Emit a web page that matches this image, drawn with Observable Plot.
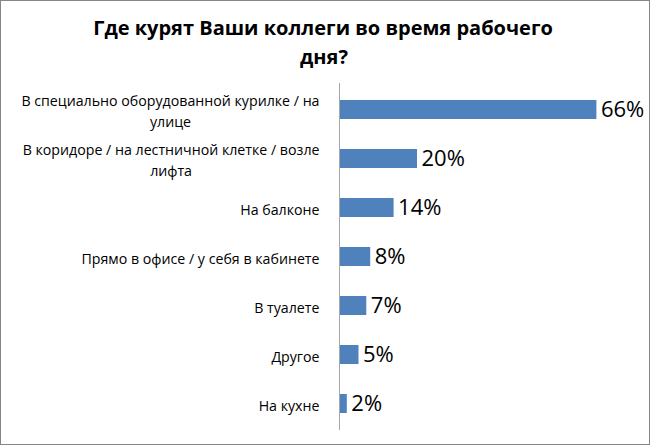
<!DOCTYPE html>
<html><head><meta charset="utf-8">
<script src="https://cdn.jsdelivr.net/npm/d3@7"></script>
<script src="https://cdn.jsdelivr.net/npm/@observablehq/plot@0.6"></script>
<style>
html,body{margin:0;padding:0;background:#fff;}
#wrap{width:650px;height:445px;box-sizing:border-box;border:1px solid #868686;background:#fff;overflow:hidden;}
#title{height:77px;box-sizing:border-box;padding-top:12px;text-align:center;font-family:"Open Sans",sans-serif;font-weight:bold;font-size:20px;line-height:29px;color:#000;}
#title div{white-space:nowrap;}
svg{display:block;}
</style></head>
<body>
<div id="wrap">
<div id="title"><div style="padding-right:4px">Где курят Ваши коллеги во время рабочего</div><div style="padding-right:2px">дня?</div></div>
<div id="chart"></div>
</div>
<script>
const categories = [
  "В специально оборудованной курилке / на\nулице",
  "В коридоре / на лестничной клетке / возле\nлифта",
  "На балконе",
  "Прямо в офисе / у себя в кабинете",
  "В туалете",
  "Другое",
  "На кухне"
];
const values = [66, 20, 14, 8, 7, 5, 2];
const valueLabels = ["66%", "20%", "14%", "8%", "7%", "5%", "2%"];

const data = categories.map((c, i) => ({cat: c, value: values[i], label: valueLabels[i]}));

const chart = Plot.plot({
  width: 648,
  height: 366,
  marginLeft: 338,
  marginRight: 37,
  marginTop: 5,
  marginBottom: 14,
  style: {fontFamily: "Open Sans, sans-serif", background: "#fff", color: "#000"},
  x: {domain: [0, 70], axis: null},
  y: {domain: categories, paddingInner: 0.62, paddingOuter: 0.31, label: null},
  marks: [
    Plot.barX(data, {x: "value", y: "cat", fill: "#4f81bd"}),
    Plot.ruleX([0], {stroke: "#a6a6a6", strokeWidth: 1}),
    Plot.axisY({tickSize: 0, tickPadding: 20, fontSize: 14.2, lineHeight: 1.5, label: null, textAnchor: "end"}),
    Plot.text(data, {x: "value", y: "cat", text: "label", dx: 4, textAnchor: "start", fontSize: 22, fill: "#000"})
  ]
});
document.getElementById("chart").appendChild(chart);

// center the lines of multi-line category labels within their block
d3.select(chart).selectAll("text").each(function() {
  const tspans = this.querySelectorAll("tspan");
  if (tspans.length > 1) {
    const w = this.getBBox().width;
    this.setAttribute("text-anchor", "middle");
    tspans.forEach(t => t.setAttribute("x", -w / 2));
  }
});
</script>
</body></html>
